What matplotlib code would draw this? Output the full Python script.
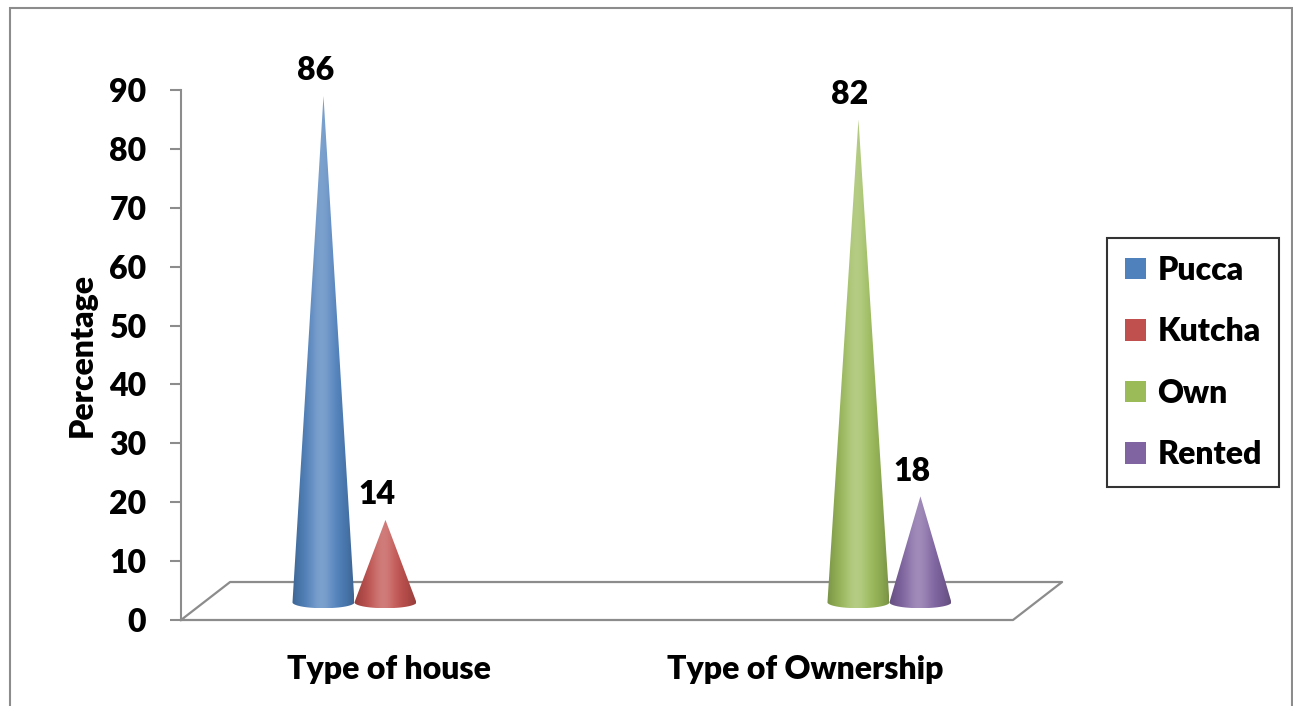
import numpy as np
import matplotlib
matplotlib.use('Agg')
import matplotlib.pyplot as plt
from matplotlib.patches import Patch, Polygon, Rectangle
from matplotlib.colors import to_rgb

# data
categories = ['Type of house', 'Type of Ownership']
series = ['Pucca', 'Kutcha', 'Own', 'Rented']
values = [86, 14, 82, 18]
group_of = [0, 0, 1, 1]   # category each series belongs to
colors = ['#4F81BD', '#C0504D', '#9BBB59', '#8064A2']
yticks = list(range(0, 100, 10))

plt.rcParams['font.family'] = ['Lato', 'DejaVu Sans']
WEIGHT = 'heavy'
plt.rcParams['font.weight'] = WEIGHT
GRAY = '#8c8c8c'
FS = 23

fig = plt.figure(figsize=(12.93, 7.06), dpi=100)
ax = fig.add_axes([181 / 1293, 86 / 706, 832 / 1293, 530 / 706])

# fake 3d floor depth (data units)
dx, dy = 0.118, 6.45
cone_dy = 3.0          # cones stand at mid depth
group_x = [-0.083, 1.203]
half_w = 0.0745
ell_h = 1.0


def cone(ax, cx, base, top, hw, eh, color):
    t = np.linspace(np.pi, 2 * np.pi, 60)
    arc = np.column_stack([cx + hw * np.cos(t), base + eh * np.sin(t)])
    verts = np.vstack([[cx, top], arc])
    poly = Polygon(verts, closed=True, facecolor='none', edgecolor='none')
    ax.add_patch(poly)
    u = np.linspace(-1, 1, 200)
    rgb = np.array(to_rgb(color))
    dark = 0.22 * np.abs(u) ** 2.5
    light = 0.25 * np.exp(-((u + 0.05) / 0.4) ** 2)
    c = rgb[None, :] * (1 - dark)[:, None]
    c = c + (1 - c) * light[:, None]
    im = ax.imshow(c[None, :, :], extent=[cx - hw, cx + hw, base - eh, top],
                   aspect='auto', interpolation='bilinear', zorder=3)
    im.set_clip_path(poly)


# floor
ax.plot([-0.5, 1.5, 1.5 + dx, -0.5 + dx, -0.5], [0, 0, dy, dy, 0],
        color=GRAY, lw=1.6, clip_on=False, zorder=2)

for i, (name, v, g, col) in enumerate(zip(series, values, group_of, colors)):
    j = i - group_of.index(g)
    cx = group_x[g] + (j - 0.5) * 2 * half_w
    top = v + cone_dy
    cone(ax, cx, cone_dy, top, half_w, ell_h, col)
    ax.annotate(str(v), (cx, top), xytext=(-6, 18), textcoords='offset points',
                ha='center', va='center', fontsize=FS, fontweight=WEIGHT,
                annotation_clip=False)

ax.set_xlim(-0.5, 1.5)
ax.set_ylim(0, 90)
ax.set_yticks(yticks)
ax.tick_params(axis='y', length=8, width=1.5, color=GRAY, pad=17, labelsize=FS)
ax.set_xticks([0, 1], categories)
ax.tick_params(axis='x', length=0, pad=25, labelsize=FS)
for s in ['top', 'right', 'bottom']:
    ax.spines[s].set_visible(False)
ax.spines['left'].set_color(GRAY)
ax.spines['left'].set_linewidth(1.5)
ax.set_ylabel('Percentage', fontsize=FS, fontweight=WEIGHT, labelpad=9)

handles = [Patch(facecolor=c, edgecolor='none', label=s) for s, c in zip(series, colors)]
leg = fig.legend(handles=handles, loc='upper left',
                 bbox_to_anchor=(1107 / 1293, 1 - 238 / 706),
                 bbox_transform=fig.transFigure, borderaxespad=0,
                 fontsize=FS, frameon=True, fancybox=False,
                 handlelength=0.68, handleheight=0.66, handletextpad=0.35,
                 labelspacing=1.02, borderpad=0.55)
leg.get_frame().set_edgecolor('black')
leg.get_frame().set_linewidth(1.5)

# outer chart border
fig.patches.append(Rectangle((9.5 / 1293, -0.05), 1282 / 1293, 1.05 - 8.5 / 706,
                             transform=fig.transFigure, fill=False,
                             edgecolor=GRAY, lw=1.5))

fig.savefig('out.png', dpi=100)
